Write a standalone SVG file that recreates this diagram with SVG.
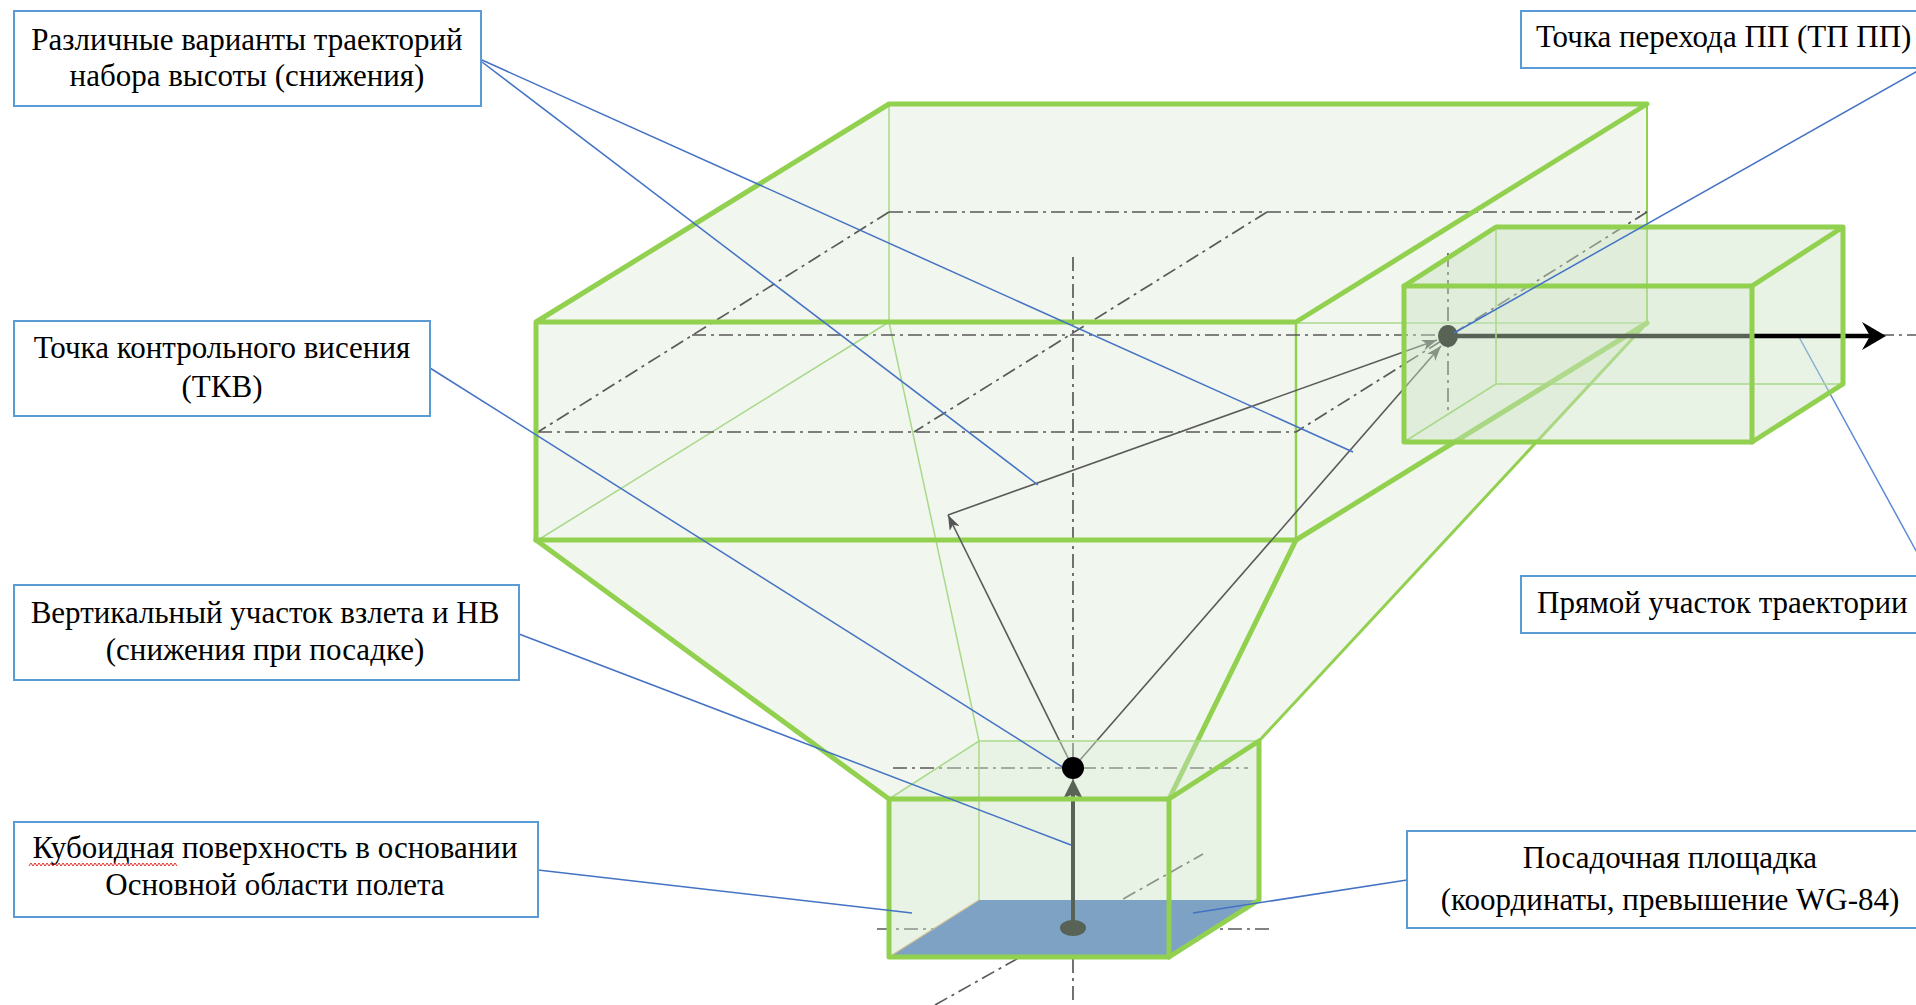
<svg xmlns="http://www.w3.org/2000/svg" width="1916" height="1005" viewBox="0 0 1916 1005">
<defs>
<marker id="ah" viewBox="0 0 15 11" refX="15" refY="5.5" markerWidth="15" markerHeight="11" markerUnits="userSpaceOnUse" orient="auto"><path d="M0,0 L15,5.5 L0,11 L4,5.5 z" fill="#555"/></marker>
</defs>
<style>
.thick{stroke:#92d050;stroke-width:5;fill:none;stroke-linecap:round;stroke-linejoin:round}
.med{stroke:#92d050;stroke-width:3;fill:none}
.thin{stroke:#a9d98b;stroke-width:1.5;fill:none}
.dd{stroke:#5a5a5a;stroke-width:1.7;fill:none;stroke-dasharray:14 5 3 5}
.traj{stroke:#5a5a5a;stroke-width:1.6;fill:none;marker-end:url(#ah)}
.lead{stroke:#4472c4;stroke-width:1.5;fill:none}
.ov{fill:rgb(202,225,196);fill-opacity:0.435}
.lbl rect{fill:#fff;stroke:#5b9bd5;stroke-width:2}
.lbl text{font-family:"Liberation Serif","Times New Roman",serif;font-size:31px;fill:#000}
</style>
<rect width="1916" height="1005" fill="#fff"/>

<g id="main-volume">
<polygon points="536,322 889,104 1647,104 1647,323 1259,741 979,741 889,799 536,540" fill="#f1f6ee"/>
<path class="thin" d="M889,104 V322 M1296,323 H1647 M889,322 L538,540 M889,322 L979,741"/>
<path class="med" style="stroke-width:2" d="M1647,104 V323"/>
<path class="med" style="stroke-width:2.5" d="M1296,322 V540"/>
</g>

<g id="axes">
<path class="dd" d="M889,212 H1647 M538,432 H1296 M889,212 L538,432 M1647,212 L1296,432"/>
<path class="dd" d="M692,335 H1916 M1267,212 L914,432 M1073,257 V1002 M1448,253 V412"/>
<path class="dd" d="M893,768 H1248 M877,929 H1273 M935,1005 L1203,854"/>
</g>

<g id="main-volume-edges">
<path class="thick" d="M536,540 V322 L889,104 H1647 L1296,322 H536"/>
<path class="thick" d="M536,540 H1296 L1647,323"/>
<path class="thick" d="M536,540 L889,799 M1296,540 L1169,799"/>
<path class="med" d="M1647,323 L1259,741"/>
</g>

<g id="landing-pad">
<polygon points="889,957 1169,957 1259,900 979,900" fill="#4472c4"/>
<line x1="889" y1="957" x2="979" y2="900" stroke="#d4a373" stroke-width="1.2"/>
</g>

<g id="connectors">
<line class="traj" x1="1073" y1="768" x2="948" y2="515"/>
<line class="traj" x1="948" y1="515" x2="1437" y2="340"/>
<line class="traj" x1="1080" y1="760" x2="1441" y2="346"/>
<line x1="1073" y1="928" x2="1073" y2="792" stroke="#000" stroke-width="4"/>
<polygon points="1073,779 1083,799 1073,794 1063,799" fill="#000"/>
<line class="lead" style="stroke:#5b8ad8" x1="1799" y1="337" x2="1932" y2="580"/>
</g>

<g id="pad-point">
<ellipse cx="1073" cy="928" rx="13" ry="8" fill="#000"/>
</g>

<g id="base-box">
<polygon class="ov" points="889,799 979,741 1259,741 1259,900 1169,957 889,957"/>
<path class="thin" d="M889,799 L979,741 H1259 M979,741 V900"/>
<path class="thick" d="M889,799 H1169 V957 H889 Z"/>
<path class="thick" d="M1169,799 L1259,741 V900 L1169,957"/>
</g>

<g id="transition-box">
<polygon class="ov" points="1404,286 1496,227 1843,227 1843,384 1752,442 1752,286"/>
<rect x="1496" y="286" width="256" height="98" fill="rgb(202,225,196)" fill-opacity="0.15"/>
<line x1="1448" y1="336" x2="1870" y2="336" stroke="#000" stroke-width="4.5"/>
<polygon points="1886,336 1862,322 1870,336 1862,350" fill="#000"/>
<ellipse cx="1448" cy="336" rx="10" ry="11" fill="#000"/>
<rect class="ov" x="1404" y="286" width="348" height="156"/>
<path class="thin" d="M1496,227 V384 H1843 M1404,442 L1496,384"/>
<path class="thick" d="M1404,286 H1752 V442 H1404 Z"/>
<path class="thick" d="M1404,286 L1496,227 H1843 L1752,286 M1843,227 V384 L1752,442"/>
</g>

<g id="leaders">
<line class="lead" x1="482" y1="60" x2="1353" y2="452"/>
<line class="lead" x1="482" y1="62" x2="1038" y2="485"/>
<line class="lead" x1="1930" y1="64" x2="1454" y2="333"/>
<line class="lead" x1="430" y1="368" x2="1064" y2="768"/>
<line class="lead" x1="519" y1="634" x2="1071" y2="845"/>
<line class="lead" x1="538" y1="870" x2="912" y2="913"/>
<line class="lead" x1="1407" y1="880" x2="1193" y2="913"/>
</g>

<g id="tkv-point">
<circle cx="1073" cy="768" r="11" fill="#000"/>
</g>

<g id="label-trajectories" class="lbl">
<rect x="14" y="11" width="467" height="95"/>
<text x="247" y="50" text-anchor="middle">Различные варианты траекторий</text>
<text x="247" y="86" text-anchor="middle">набора высоты (снижения)</text>
</g>
<g id="label-tp" class="lbl">
<rect x="1521" y="11" width="420" height="57"/>
<text x="1536" y="47">Точка перехода ПП (ТП ПП)</text>
</g>
<g id="label-tkv" class="lbl">
<rect x="14" y="321" width="416" height="95"/>
<text x="222" y="358" text-anchor="middle">Точка контрольного висения</text>
<text x="222" y="397" text-anchor="middle">(ТКВ)</text>
</g>
<g id="label-vertical" class="lbl">
<rect x="14" y="585" width="505" height="95"/>
<text x="265" y="623" text-anchor="middle">Вертикальный участок взлета и НВ</text>
<text x="265" y="660" text-anchor="middle">(снижения при посадке)</text>
</g>
<g id="label-cuboid" class="lbl">
<rect x="14" y="822" width="524" height="95"/>
<text x="275" y="858" text-anchor="middle">Кубоидная поверхность в основании</text>
<text x="275" y="895" text-anchor="middle">Основной области полета</text>
<path d="M29,866 l2,-3 l2,3 l2,-3 l2,3 l2,-3 l2,3 l2,-3 l2,3 l2,-3 l2,3 l2,-3 l2,3 l2,-3 l2,3 l2,-3 l2,3 l2,-3 l2,3 l2,-3 l2,3 l2,-3 l2,3 l2,-3 l2,3 l2,-3 l2,3 l2,-3 l2,3 l2,-3 l2,3 l2,-3 l2,3 l2,-3 l2,3 l2,-3 l2,3 l2,-3 l2,3 l2,-3 l2,3 l2,-3 l2,3 l2,-3 l2,3 l2,-3 l2,3 l2,-3 l2,3 l2,-3 l2,3 l2,-3 l2,3 l2,-3 l2,3 l2,-3 l2,3 l2,-3 l2,3 l2,-3 l2,3 l2,-3 l2,3 l2,-3 l2,3 l2,-3 l2,3 l2,-3 l2,3 l2,-3 l2,3 l2,-3 l2,3 l2,-3 l2,3" fill="none" stroke="#e0302a" stroke-width="1"/>
</g>
<g id="label-straight" class="lbl">
<rect x="1521" y="576" width="420" height="57"/>
<text x="1537" y="613">Прямой участок траектории</text>
</g>
<g id="label-pad" class="lbl">
<rect x="1407" y="831" width="530" height="97"/>
<text x="1670" y="868" text-anchor="middle">Посадочная площадка</text>
<text x="1670" y="910" text-anchor="middle">(координаты, превышение WG-84)</text>
</g>
</svg>
